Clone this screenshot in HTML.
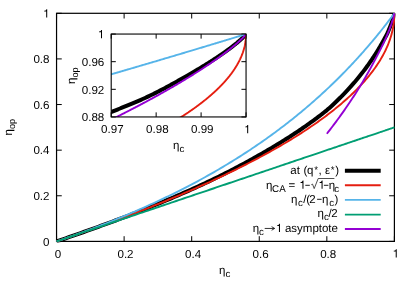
<!DOCTYPE html><html><head><meta charset="utf-8"><title>plot</title><style>html,body{margin:0;padding:0;background:#fff;}svg{display:block;will-change:transform;}text{font-family:"Liberation Sans",sans-serif;fill:#000;text-rendering:geometricPrecision;}</style></head><body>
<svg width="415" height="290" viewBox="0 0 415 290">
<rect width="415" height="290" fill="#fff"/>
<defs><clipPath id="cm"><rect x="55.55" y="12.30" width="339.85" height="230.10"/></clipPath><clipPath id="ci"><rect x="111.20" y="34.05" width="134.85" height="82.90"/></clipPath></defs>
<path d="M56.55,241.4 V236.20000000000002 M56.55,13.3 V18.5 M56.55,241.40 H61.75 M394.4,241.40 H389.2 M124.12,241.4 V236.20000000000002 M124.12,13.3 V18.5 M56.55,195.78 H61.75 M394.4,195.78 H389.2 M191.69,241.4 V236.20000000000002 M191.69,13.3 V18.5 M56.55,150.16 H61.75 M394.4,150.16 H389.2 M259.26,241.4 V236.20000000000002 M259.26,13.3 V18.5 M56.55,104.54 H61.75 M394.4,104.54 H389.2 M326.83,241.4 V236.20000000000002 M326.83,13.3 V18.5 M56.55,58.92 H61.75 M394.4,58.92 H389.2 M394.40,241.4 V236.20000000000002 M394.40,13.3 V18.5 M56.55,13.30 H61.75 M394.4,13.30 H389.2" stroke="#000" stroke-width="1" fill="none"/>
<rect x="56.55" y="13.3" width="337.85" height="228.10" fill="none" stroke="#000" stroke-width="1.2"/>
<g clip-path="url(#cm)" fill="none" stroke-linejoin="round">
<path d="M56.55,241.40 L59.63,240.36 L62.69,239.32 L65.74,238.27 L68.78,237.23 L71.80,236.19 L74.81,235.14 L77.80,234.10 L80.78,233.05 L83.75,232.01 L86.70,230.96 L89.64,229.92 L92.56,228.87 L95.47,227.83 L98.36,226.78 L101.25,225.73 L104.11,224.69 L106.97,223.64 L109.80,222.59 L112.63,221.54 L115.44,220.50 L118.24,219.45 L121.02,218.40 L123.79,217.35 L126.54,216.31 L129.28,215.26 L132.01,214.20 L134.72,213.15 L137.42,212.10 L140.10,211.04 L142.77,209.98 L145.43,208.93 L148.07,207.87 L150.70,206.81 L153.31,205.74 L155.91,204.68 L158.49,203.62 L161.07,202.56 L163.62,201.49 L166.17,200.42 L168.69,199.36 L171.21,198.29 L173.71,197.22 L176.20,196.16 L178.67,195.09 L181.13,194.02 L183.57,192.95 L186.00,191.88 L188.42,190.81 L190.82,189.74 L193.21,188.66 L195.58,187.59 L197.94,186.51 L200.29,185.42 L202.62,184.34 L204.94,183.25 L207.24,182.16 L209.53,181.07 L211.81,179.97 L214.07,178.87 L216.31,177.78 L218.55,176.68 L220.77,175.58 L222.97,174.48 L225.16,173.38 L227.34,172.28 L229.50,171.18 L231.65,170.07 L233.78,168.96 L235.90,167.85 L238.01,166.74 L240.10,165.62 L242.18,164.51 L244.24,163.39 L246.29,162.28 L248.33,161.16 L250.35,160.05 L252.36,158.93 L254.35,157.82 L256.33,156.71 L258.30,155.60 L260.25,154.49 L262.19,153.39 L264.11,152.28 L266.02,151.18 L267.91,150.07 L269.79,148.97 L271.66,147.87 L273.51,146.77 L275.35,145.66 L277.18,144.56 L278.99,143.46 L280.78,142.36 L282.57,141.26 L284.33,140.16 L286.09,139.05 L287.83,137.95 L289.55,136.85 L291.26,135.74 L292.96,134.64 L294.65,133.54 L296.32,132.43 L297.97,131.33 L299.61,130.22 L301.24,129.11 L302.85,128.01 L304.45,126.90 L306.04,125.80 L307.61,124.69 L309.16,123.59 L310.71,122.48 L312.24,121.38 L313.75,120.27 L315.25,119.16 L316.74,118.06 L318.21,116.95 L319.67,115.85 L321.11,114.74 L322.54,113.64 L323.96,112.53 L325.36,111.43 L326.75,110.33 L328.12,109.11 L329.48,107.89 L330.83,106.67 L332.16,105.44 L333.47,104.21 L334.78,102.98 L336.07,101.75 L337.34,100.52 L338.60,99.28 L339.85,98.05 L341.08,96.81 L342.30,95.57 L343.51,94.33 L344.70,93.10 L345.87,91.86 L347.03,90.62 L348.18,89.38 L349.32,88.14 L350.44,86.90 L351.54,85.66 L352.63,84.42 L353.71,83.19 L354.78,81.95 L355.83,80.72 L356.86,79.48 L357.88,78.25 L358.89,77.02 L359.88,75.79 L360.86,74.57 L361.83,73.34 L362.78,72.12 L363.72,70.90 L364.64,69.68 L365.55,68.46 L366.44,67.25 L367.32,66.04 L368.19,64.84 L369.04,63.63 L369.88,62.44 L370.70,61.25 L371.51,60.06 L372.31,58.89 L373.09,57.71 L373.86,56.55 L374.61,55.39 L375.35,54.25 L376.08,53.11 L376.79,51.98 L377.49,50.85 L378.17,49.74 L378.84,48.63 L379.49,47.52 L380.14,46.43 L380.76,45.34 L381.38,44.27 L381.97,43.21 L382.56,42.17 L383.13,41.14 L383.69,40.13 L384.23,39.14 L384.76,38.19 L385.27,37.27 L385.77,36.37 L386.26,35.47 L386.73,34.56 L387.19,33.62 L387.63,32.66 L388.06,31.69 L388.48,30.72 L388.88,29.76 L389.26,28.81 L389.64,27.89 L390.00,26.98 L390.34,26.11 L390.67,25.26 L390.99,24.42 L391.29,23.61 L391.58,22.82 L391.86,22.05 L392.12,21.31 L392.36,20.59 L392.60,19.89 L392.82,19.22 L393.02,18.57 L393.21,17.96 L393.39,17.37 L393.55,16.81 L393.70,16.28 L393.83,15.79 L393.95,15.33 L394.05,14.91 L394.15,14.53 L394.22,14.19 L394.29,13.90 L394.34,13.66 L394.37,13.47 L394.39,13.35 L394.40,13.30" stroke="#000000" stroke-width="4.0"/>
<path d="M56.55,241.40 L59.63,240.36 L62.69,239.32 L65.74,238.28 L68.78,237.23 L71.80,236.19 L74.81,235.15 L77.80,234.11 L80.78,233.07 L83.75,232.03 L86.70,230.98 L89.64,229.94 L92.56,228.90 L95.47,227.86 L98.36,226.82 L101.25,225.78 L104.11,224.74 L106.97,223.69 L109.80,222.65 L112.63,221.61 L115.44,220.57 L118.24,219.53 L121.02,218.49 L123.79,217.44 L126.54,216.40 L129.28,215.36 L132.01,214.32 L134.72,213.28 L137.42,212.24 L140.10,211.19 L142.77,210.15 L145.43,209.11 L148.07,208.07 L150.70,207.03 L153.31,205.99 L155.91,204.95 L158.49,203.90 L161.07,202.86 L163.62,201.82 L166.17,200.78 L168.69,199.74 L171.21,198.70 L173.71,197.65 L176.20,196.61 L178.67,195.57 L181.13,194.53 L183.57,193.49 L186.00,192.45 L188.42,191.41 L190.82,190.36 L193.21,189.32 L195.58,188.28 L197.94,187.24 L200.29,186.20 L202.62,185.16 L204.94,184.11 L207.24,183.07 L209.53,182.03 L211.81,180.99 L214.07,179.95 L216.31,178.91 L218.55,177.87 L220.77,176.82 L222.97,175.78 L225.16,174.74 L227.34,173.70 L229.50,172.66 L231.65,171.62 L233.78,170.57 L235.90,169.53 L238.01,168.49 L240.10,167.45 L242.18,166.41 L244.24,165.37 L246.29,164.33 L248.33,163.28 L250.35,162.24 L252.36,161.20 L254.35,160.16 L256.33,159.12 L258.30,158.08 L260.25,157.03 L262.19,155.99 L264.11,154.95 L266.02,153.91 L267.91,152.87 L269.79,151.83 L271.66,150.78 L273.51,149.74 L275.35,148.70 L277.18,147.66 L278.99,146.62 L280.78,145.58 L282.57,144.54 L284.33,143.49 L286.09,142.45 L287.83,141.41 L289.55,140.37 L291.26,139.33 L292.96,138.29 L294.65,137.24 L296.32,136.20 L297.97,135.16 L299.61,134.12 L301.24,133.08 L302.85,132.04 L304.45,131.00 L306.04,129.95 L307.61,128.91 L309.16,127.87 L310.71,126.83 L312.24,125.79 L313.75,124.75 L315.25,123.70 L316.74,122.66 L318.21,121.62 L319.67,120.58 L321.11,119.54 L322.54,118.50 L323.96,117.46 L325.36,116.41 L326.75,115.37 L328.12,114.33 L329.48,113.29 L330.83,112.25 L332.16,111.21 L333.47,110.16 L334.78,109.12 L336.07,108.08 L337.34,107.04 L338.60,106.00 L339.85,104.96 L341.08,103.92 L342.30,102.87 L343.51,101.83 L344.70,100.79 L345.87,99.75 L347.03,98.71 L348.18,97.67 L349.32,96.62 L350.44,95.58 L351.54,94.54 L352.63,93.50 L353.71,92.46 L354.78,91.42 L355.83,90.37 L356.86,89.33 L357.88,88.29 L358.89,87.25 L359.88,86.21 L360.86,85.17 L361.83,84.13 L362.78,83.08 L363.72,82.04 L364.64,81.00 L365.55,79.96 L366.44,78.92 L367.32,77.88 L368.19,76.83 L369.04,75.79 L369.88,74.75 L370.70,73.71 L371.51,72.67 L372.31,71.63 L373.09,70.59 L373.86,69.54 L374.61,68.50 L375.35,67.46 L376.08,66.42 L376.79,65.38 L377.49,64.34 L378.17,63.29 L378.84,62.25 L379.49,61.21 L380.14,60.17 L380.76,59.13 L381.38,58.09 L381.97,57.05 L382.56,56.00 L383.13,54.96 L383.69,53.92 L384.23,52.88 L384.76,51.84 L385.27,50.80 L385.77,49.75 L386.26,48.71 L386.73,47.67 L387.19,46.63 L387.63,45.59 L388.06,44.55 L388.48,43.51 L388.88,42.46 L389.26,41.42 L389.64,40.38 L390.00,39.34 L390.34,38.30 L390.67,37.26 L390.99,36.21 L391.29,35.17 L391.58,34.13 L391.86,33.09 L392.12,32.05 L392.36,31.01 L392.60,29.96 L392.82,28.92 L393.02,27.88 L393.21,26.84 L393.39,25.80 L393.55,24.76 L393.70,23.72 L393.83,22.67 L393.95,21.63 L394.05,20.59 L394.15,19.55 L394.22,18.51 L394.29,17.47 L394.34,16.42 L394.37,15.38 L394.39,14.34 L394.40,13.30" stroke="#e51e10" stroke-width="1.9"/>
<path d="M56.55,241.40 L59.63,240.36 L62.69,239.31 L65.74,238.25 L68.78,237.20 L71.80,236.13 L74.81,235.07 L77.80,233.99 L80.78,232.92 L83.75,231.83 L86.70,230.75 L89.64,229.66 L92.56,228.56 L95.47,227.46 L98.36,226.35 L101.25,225.24 L104.11,224.13 L106.97,223.01 L109.80,221.88 L112.63,220.76 L115.44,219.62 L118.24,218.48 L121.02,217.34 L123.79,216.19 L126.54,215.04 L129.28,213.89 L132.01,212.72 L134.72,211.56 L137.42,210.39 L140.10,209.22 L142.77,208.04 L145.43,206.85 L148.07,205.67 L150.70,204.47 L153.31,203.28 L155.91,202.08 L158.49,200.87 L161.07,199.66 L163.62,198.45 L166.17,197.23 L168.69,196.01 L171.21,194.78 L173.71,193.55 L176.20,192.32 L178.67,191.08 L181.13,189.84 L183.57,188.59 L186.00,187.34 L188.42,186.09 L190.82,184.83 L193.21,183.57 L195.58,182.31 L197.94,181.04 L200.29,179.77 L202.62,178.49 L204.94,177.21 L207.24,175.93 L209.53,174.64 L211.81,173.35 L214.07,172.06 L216.31,170.77 L218.55,169.47 L220.77,168.17 L222.97,166.86 L225.16,165.55 L227.34,164.24 L229.50,162.93 L231.65,161.62 L233.78,160.30 L235.90,158.98 L238.01,157.65 L240.10,156.33 L242.18,155.00 L244.24,153.67 L246.29,152.34 L248.33,151.00 L250.35,149.67 L252.36,148.33 L254.35,146.99 L256.33,145.65 L258.30,144.30 L260.25,142.96 L262.19,141.61 L264.11,140.27 L266.02,138.92 L267.91,137.57 L269.79,136.22 L271.66,134.87 L273.51,133.52 L275.35,132.17 L277.18,130.81 L278.99,129.46 L280.78,128.11 L282.57,126.76 L284.33,125.40 L286.09,124.05 L287.83,122.70 L289.55,121.34 L291.26,119.99 L292.96,118.64 L294.65,117.29 L296.32,115.94 L297.97,114.60 L299.61,113.25 L301.24,111.90 L302.85,110.56 L304.45,109.22 L306.04,107.88 L307.61,106.54 L309.16,105.21 L310.71,103.87 L312.24,102.54 L313.75,101.22 L315.25,99.89 L316.74,98.57 L318.21,97.25 L319.67,95.93 L321.11,94.62 L322.54,93.31 L323.96,92.01 L325.36,90.71 L326.75,89.41 L328.12,88.12 L329.48,86.83 L330.83,85.55 L332.16,84.27 L333.47,83.00 L334.78,81.73 L336.07,80.47 L337.34,79.21 L338.60,77.96 L339.85,76.72 L341.08,75.48 L342.30,74.25 L343.51,73.03 L344.70,71.81 L345.87,70.60 L347.03,69.39 L348.18,68.20 L349.32,67.01 L350.44,65.83 L351.54,64.66 L352.63,63.49 L353.71,62.34 L354.78,61.19 L355.83,60.05 L356.86,58.92 L357.88,57.80 L358.89,56.69 L359.88,55.59 L360.86,54.50 L361.83,53.42 L362.78,52.34 L363.72,51.28 L364.64,50.23 L365.55,49.20 L366.44,48.17 L367.32,47.15 L368.19,46.15 L369.04,45.15 L369.88,44.17 L370.70,43.20 L371.51,42.24 L372.31,41.30 L373.09,40.37 L373.86,39.45 L374.61,38.54 L375.35,37.65 L376.08,36.77 L376.79,35.90 L377.49,35.05 L378.17,34.21 L378.84,33.39 L379.49,32.58 L380.14,31.78 L380.76,31.00 L381.38,30.23 L381.97,29.48 L382.56,28.75 L383.13,28.03 L383.69,27.32 L384.23,26.63 L384.76,25.96 L385.27,25.30 L385.77,24.66 L386.26,24.04 L386.73,23.43 L387.19,22.84 L387.63,22.26 L388.06,21.70 L388.48,21.16 L388.88,20.64 L389.26,20.13 L389.64,19.64 L390.00,19.17 L390.34,18.71 L390.67,18.28 L390.99,17.86 L391.29,17.46 L391.58,17.07 L391.86,16.71 L392.12,16.36 L392.36,16.03 L392.60,15.72 L392.82,15.43 L393.02,15.16 L393.21,14.90 L393.39,14.67 L393.55,14.45 L393.70,14.25 L393.83,14.07 L393.95,13.91 L394.05,13.77 L394.15,13.64 L394.22,13.54 L394.29,13.45 L394.34,13.39 L394.37,13.34 L394.39,13.31 L394.40,13.30" stroke="#56b4e9" stroke-width="1.9"/>
<path d="M56.55,241.40 L59.63,240.36 L62.69,239.33 L65.74,238.30 L68.78,237.27 L71.80,236.25 L74.81,235.24 L77.80,234.23 L80.78,233.22 L83.75,232.22 L86.70,231.22 L89.64,230.23 L92.56,229.24 L95.47,228.26 L98.36,227.28 L101.25,226.31 L104.11,225.34 L106.97,224.38 L109.80,223.42 L112.63,222.47 L115.44,221.52 L118.24,220.58 L121.02,219.64 L123.79,218.70 L126.54,217.77 L129.28,216.85 L132.01,215.93 L134.72,215.01 L137.42,214.10 L140.10,213.19 L142.77,212.29 L145.43,211.40 L148.07,210.51 L150.70,209.62 L153.31,208.74 L155.91,207.86 L158.49,206.99 L161.07,206.12 L163.62,205.25 L166.17,204.40 L168.69,203.54 L171.21,202.69 L173.71,201.85 L176.20,201.01 L178.67,200.18 L181.13,199.35 L183.57,198.52 L186.00,197.70 L188.42,196.88 L190.82,196.07 L193.21,195.27 L195.58,194.47 L197.94,193.67 L200.29,192.88 L202.62,192.09 L204.94,191.31 L207.24,190.53 L209.53,189.76 L211.81,188.99 L214.07,188.23 L216.31,187.47 L218.55,186.71 L220.77,185.96 L222.97,185.22 L225.16,184.48 L227.34,183.75 L229.50,183.02 L231.65,182.29 L233.78,181.57 L235.90,180.85 L238.01,180.14 L240.10,179.44 L242.18,178.74 L244.24,178.04 L246.29,177.35 L248.33,176.66 L250.35,175.98 L252.36,175.30 L254.35,174.63 L256.33,173.96 L258.30,173.29 L260.25,172.64 L262.19,171.98 L264.11,171.33 L266.02,170.69 L267.91,170.05 L269.79,169.41 L271.66,168.78 L273.51,168.16 L275.35,167.54 L277.18,166.92 L278.99,166.31 L280.78,165.70 L282.57,165.10 L284.33,164.51 L286.09,163.91 L287.83,163.33 L289.55,162.74 L291.26,162.17 L292.96,161.59 L294.65,161.02 L296.32,160.46 L297.97,159.90 L299.61,159.35 L301.24,158.80 L302.85,158.25 L304.45,157.71 L306.04,157.18 L307.61,156.65 L309.16,156.12 L310.71,155.60 L312.24,155.09 L313.75,154.58 L315.25,154.07 L316.74,153.57 L318.21,153.07 L319.67,152.58 L321.11,152.09 L322.54,151.61 L323.96,151.13 L325.36,150.66 L326.75,150.19 L328.12,149.72 L329.48,149.27 L330.83,148.81 L332.16,148.36 L333.47,147.92 L334.78,147.48 L336.07,147.04 L337.34,146.61 L338.60,146.19 L339.85,145.77 L341.08,145.35 L342.30,144.94 L343.51,144.53 L344.70,144.13 L345.87,143.73 L347.03,143.34 L348.18,142.95 L349.32,142.57 L350.44,142.19 L351.54,141.82 L352.63,141.45 L353.71,141.09 L354.78,140.73 L355.83,140.37 L356.86,140.02 L357.88,139.68 L358.89,139.34 L359.88,139.00 L360.86,138.67 L361.83,138.35 L362.78,138.02 L363.72,137.71 L364.64,137.40 L365.55,137.09 L366.44,136.79 L367.32,136.49 L368.19,136.20 L369.04,135.91 L369.88,135.63 L370.70,135.35 L371.51,135.08 L372.31,134.81 L373.09,134.54 L373.86,134.28 L374.61,134.03 L375.35,133.78 L376.08,133.54 L376.79,133.29 L377.49,133.06 L378.17,132.83 L378.84,132.60 L379.49,132.38 L380.14,132.17 L380.76,131.95 L381.38,131.75 L381.97,131.54 L382.56,131.35 L383.13,131.15 L383.69,130.97 L384.23,130.78 L384.76,130.61 L385.27,130.43 L385.77,130.26 L386.26,130.10 L386.73,129.94 L387.19,129.79 L387.63,129.64 L388.06,129.49 L388.48,129.35 L388.88,129.21 L389.26,129.08 L389.64,128.96 L390.00,128.84 L390.34,128.72 L390.67,128.61 L390.99,128.50 L391.29,128.40 L391.58,128.30 L391.86,128.21 L392.12,128.12 L392.36,128.04 L392.60,127.96 L392.82,127.89 L393.02,127.82 L393.21,127.75 L393.39,127.69 L393.55,127.64 L393.70,127.59 L393.83,127.54 L393.95,127.50 L394.05,127.47 L394.15,127.44 L394.22,127.41 L394.29,127.39 L394.34,127.37 L394.37,127.36 L394.39,127.35 L394.40,127.35" stroke="#009e73" stroke-width="1.9"/>
<path d="M326.83,133.75 L327.45,132.97 L328.06,132.19 L328.67,131.41 L329.28,130.63 L329.88,129.85 L330.48,129.07 L331.08,128.29 L331.68,127.51 L332.27,126.74 L332.86,125.96 L333.45,125.18 L334.03,124.41 L334.61,123.63 L335.19,122.86 L335.77,122.09 L336.34,121.32 L336.91,120.54 L337.48,119.77 L338.05,119.00 L338.61,118.23 L339.17,117.47 L339.72,116.70 L340.28,115.93 L340.83,115.17 L341.38,114.40 L341.92,113.64 L342.46,112.88 L343.00,112.11 L343.54,111.35 L344.07,110.59 L344.61,109.83 L345.13,109.08 L345.66,108.32 L346.18,107.56 L346.70,106.81 L347.22,106.06 L347.73,105.30 L348.24,104.55 L348.75,103.80 L349.26,103.05 L349.76,102.31 L350.26,101.56 L350.76,100.81 L351.25,100.07 L351.75,99.33 L352.23,98.58 L352.72,97.84 L353.20,97.11 L353.68,96.37 L354.16,95.63 L354.64,94.90 L355.11,94.16 L355.58,93.43 L356.04,92.70 L356.51,91.97 L356.97,91.24 L357.43,90.52 L357.88,89.79 L358.33,89.07 L358.78,88.35 L359.23,87.63 L359.67,86.91 L360.11,86.19 L360.55,85.48 L360.99,84.76 L361.42,84.05 L361.85,83.34 L362.28,82.62 L362.70,81.91 L363.12,81.20 L363.54,80.49 L363.96,79.79 L364.37,79.08 L364.78,78.38 L365.19,77.67 L365.59,76.97 L365.99,76.27 L366.39,75.57 L366.79,74.88 L367.18,74.18 L367.57,73.49 L367.96,72.80 L368.34,72.11 L368.72,71.43 L369.10,70.75 L369.48,70.07 L369.85,69.39 L370.22,68.71 L370.59,68.04 L370.96,67.37 L371.32,66.71 L371.68,66.05 L372.03,65.39 L372.39,64.73 L372.74,64.08 L373.09,63.43 L373.43,62.78 L373.77,62.14 L374.11,61.50 L374.45,60.87 L374.78,60.24 L375.11,59.61 L375.44,58.99 L375.77,58.37 L376.09,57.75 L376.41,57.14 L376.73,56.54 L377.04,55.93 L377.35,55.34 L377.66,54.74 L377.97,54.16 L378.27,53.57 L378.57,52.99 L378.87,52.42 L379.16,51.85 L379.45,51.29 L379.74,50.73 L380.03,50.17 L380.31,49.61 L380.59,49.06 L380.87,48.52 L381.14,47.98 L381.42,47.43 L381.69,46.90 L381.95,46.36 L382.21,45.83 L382.48,45.30 L382.73,44.77 L382.99,44.25 L383.24,43.72 L383.49,43.20 L383.74,42.68 L383.98,42.16 L384.22,41.65 L384.46,41.13 L384.69,40.62 L384.93,40.11 L385.16,39.60 L385.38,39.09 L385.61,38.59 L385.83,38.09 L386.05,37.59 L386.26,37.09 L386.48,36.60 L386.69,36.11 L386.89,35.62 L387.10,35.14 L387.30,34.66 L387.50,34.18 L387.69,33.71 L387.89,33.24 L388.08,32.77 L388.26,32.31 L388.45,31.85 L388.63,31.39 L388.81,30.94 L388.98,30.49 L389.16,30.05 L389.33,29.60 L389.50,29.17 L389.66,28.73 L389.82,28.30 L389.98,27.88 L390.14,27.46 L390.29,27.04 L390.44,26.63 L390.59,26.22 L390.74,25.81 L390.88,25.41 L391.02,25.02 L391.15,24.63 L391.29,24.24 L391.42,23.86 L391.55,23.49 L391.67,23.12 L391.80,22.75 L391.91,22.39 L392.03,22.03 L392.15,21.68 L392.26,21.33 L392.37,20.99 L392.47,20.66 L392.57,20.33 L392.67,20.00 L392.77,19.68 L392.87,19.37 L392.96,19.06 L393.05,18.76 L393.13,18.47 L393.22,18.18 L393.30,17.89 L393.37,17.62 L393.45,17.35 L393.52,17.09 L393.59,16.83 L393.65,16.58 L393.72,16.34 L393.78,16.10 L393.84,15.88 L393.89,15.66 L393.94,15.45 L393.99,15.24 L394.04,15.05 L394.08,14.86 L394.12,14.68 L394.16,14.51 L394.20,14.35 L394.23,14.20 L394.26,14.06 L394.29,13.93 L394.31,13.81 L394.33,13.70 L394.35,13.61 L394.36,13.52 L394.38,13.45 L394.39,13.39 L394.39,13.34 L394.40,13.31 L394.40,13.30" stroke="#9400d3" stroke-width="1.9"/>
</g>
<text x="57.95" y="257.50" font-size="11.60" text-anchor="middle">0</text>
<text x="49.50" y="245.60" font-size="11.60" text-anchor="end">0</text>
<text x="125.52" y="257.50" font-size="11.60" text-anchor="middle">0.2</text>
<text x="49.50" y="199.98" font-size="11.60" text-anchor="end">0.2</text>
<text x="193.09" y="257.50" font-size="11.60" text-anchor="middle">0.4</text>
<text x="49.50" y="154.36" font-size="11.60" text-anchor="end">0.4</text>
<text x="260.66" y="257.50" font-size="11.60" text-anchor="middle">0.6</text>
<text x="49.50" y="108.74" font-size="11.60" text-anchor="end">0.6</text>
<text x="328.23" y="257.50" font-size="11.60" text-anchor="middle">0.8</text>
<text x="49.50" y="63.12" font-size="11.60" text-anchor="end">0.8</text>
<path d="M396.74,257.50 L395.72,257.50 L395.72,251.56 L393.75,251.56 L393.75,250.86 Q395.61,250.80 396.01,249.24 L396.74,249.24 Z" fill="#000"/>
<path d="M47.21,17.50 L46.19,17.50 L46.19,11.56 L44.22,11.56 L44.22,10.86 Q46.09,10.80 46.48,9.24 L47.21,9.24 Z" fill="#000"/>
<rect x="111.2" y="34.05" width="134.85" height="82.90" fill="#fff"/>
<path d="M111.20,116.95 V112.35000000000001 M111.20,34.05 V38.65 M111.2,116.95 H115.8 M246.05,116.95 H241.45000000000002 M156.15,116.95 V112.35000000000001 M156.15,34.05 V38.65 M111.2,89.32 H115.8 M246.05,89.32 H241.45000000000002 M201.10,116.95 V112.35000000000001 M201.10,34.05 V38.65 M111.2,61.68 H115.8 M246.05,61.68 H241.45000000000002 M246.05,116.95 V112.35000000000001 M246.05,34.05 V38.65 M111.2,34.05 H115.8 M246.05,34.05 H241.45000000000002" stroke="#000" stroke-width="1" fill="none"/>
<g clip-path="url(#ci)" fill="none" stroke-linejoin="round">
<path d="M88.72,121.39 L90.16,120.80 L91.59,120.22 L93.01,119.63 L94.42,119.05 L95.83,118.48 L97.23,117.90 L98.62,117.32 L100.01,116.75 L101.39,116.18 L102.76,115.61 L104.13,115.05 L105.49,114.48 L106.85,113.92 L108.20,113.36 L109.54,112.80 L110.87,112.25 L112.20,111.69 L113.52,111.15 L114.84,110.61 L116.15,110.07 L117.45,109.54 L118.75,109.01 L120.04,108.49 L121.32,107.97 L122.59,107.45 L123.86,106.93 L125.13,106.42 L126.38,105.91 L127.63,105.40 L128.88,104.89 L130.11,104.38 L131.34,103.88 L132.57,103.37 L133.78,102.86 L134.99,102.36 L136.20,101.85 L137.39,101.34 L138.59,100.83 L139.77,100.32 L140.95,99.80 L142.12,99.28 L143.28,98.76 L144.44,98.24 L145.59,97.72 L146.74,97.19 L147.87,96.65 L149.01,96.11 L150.13,95.57 L151.25,95.03 L152.36,94.48 L153.47,93.93 L154.57,93.39 L155.66,92.84 L156.74,92.29 L157.82,91.74 L158.90,91.19 L159.96,90.64 L161.02,90.09 L162.08,89.54 L163.12,88.99 L164.16,88.45 L165.19,87.90 L166.22,87.35 L167.24,86.80 L168.26,86.26 L169.26,85.71 L170.26,85.17 L171.26,84.62 L172.24,84.08 L173.22,83.54 L174.20,83.00 L175.17,82.47 L176.13,81.93 L177.08,81.40 L178.03,80.87 L178.97,80.34 L179.91,79.81 L180.83,79.28 L181.76,78.76 L182.67,78.24 L183.58,77.72 L184.48,77.21 L185.38,76.70 L186.27,76.19 L187.15,75.68 L188.03,75.18 L188.89,74.68 L189.76,74.18 L190.61,73.68 L191.46,73.19 L192.31,72.70 L193.14,72.22 L193.97,71.73 L194.80,71.25 L195.61,70.77 L196.42,70.29 L197.23,69.81 L198.02,69.33 L198.81,68.86 L199.60,68.39 L200.38,67.92 L201.15,67.46 L201.91,66.99 L202.67,66.53 L203.42,66.07 L204.16,65.62 L204.90,65.16 L205.63,64.71 L206.36,64.26 L207.08,63.81 L207.79,63.37 L208.49,62.93 L209.19,62.49 L209.89,62.05 L210.57,61.61 L211.25,61.18 L211.92,60.75 L212.59,60.32 L213.25,59.89 L213.90,59.47 L214.55,59.05 L215.19,58.63 L215.82,58.22 L216.45,57.80 L217.07,57.39 L217.68,56.98 L218.29,56.58 L218.89,56.17 L219.48,55.77 L220.07,55.37 L220.65,54.98 L221.22,54.59 L221.79,54.20 L222.35,53.81 L222.90,53.42 L223.45,53.04 L223.99,52.66 L224.53,52.28 L225.06,51.91 L225.58,51.54 L226.09,51.17 L226.60,50.80 L227.10,50.44 L227.60,50.08 L228.09,49.72 L228.57,49.37 L229.05,49.02 L229.51,48.67 L229.98,48.33 L230.43,47.98 L230.88,47.64 L231.32,47.31 L231.76,46.97 L232.19,46.64 L232.61,46.32 L233.03,45.99 L233.44,45.67 L233.84,45.36 L234.24,45.04 L234.63,44.73 L235.02,44.43 L235.39,44.12 L235.76,43.82 L236.13,43.53 L236.48,43.24 L236.84,42.95 L237.18,42.66 L237.52,42.38 L237.85,42.10 L238.17,41.83 L238.49,41.56 L238.80,41.29 L239.11,41.03 L239.41,40.77 L239.70,40.51 L239.98,40.26 L240.26,40.01 L240.54,39.77 L240.80,39.53 L241.06,39.29 L241.31,39.06 L241.56,38.83 L241.80,38.61 L242.03,38.39 L242.26,38.18 L242.48,37.97 L242.69,37.76 L242.90,37.56 L243.10,37.37 L243.29,37.18 L243.48,36.99 L243.66,36.81 L243.83,36.63 L244.00,36.46 L244.16,36.29 L244.31,36.13 L244.46,35.97 L244.60,35.82 L244.74,35.67 L244.87,35.53 L244.99,35.39 L245.10,35.26 L245.21,35.14 L245.31,35.02 L245.41,34.91 L245.50,34.80 L245.58,34.70 L245.65,34.61 L245.72,34.52 L245.78,34.44 L245.84,34.36 L245.89,34.30 L245.93,34.24 L245.97,34.18 L246.00,34.14 L246.02,34.10 L246.04,34.07 L246.05,34.06 L246.05,34.05" stroke="#000000" stroke-width="4.0"/>
<path d="M88.72,163.29 L89.51,162.97 L90.30,162.65 L91.08,162.32 L91.86,162.00 L92.64,161.67 L93.42,161.35 L94.20,161.03 L94.97,160.70 L95.74,160.38 L96.51,160.05 L97.28,159.73 L98.05,159.41 L98.81,159.08 L99.57,158.76 L100.33,158.43 L101.09,158.11 L101.85,157.79 L102.60,157.46 L103.35,157.14 L104.10,156.81 L104.85,156.49 L105.60,156.17 L106.34,155.84 L107.08,155.52 L107.82,155.20 L108.56,154.87 L109.30,154.55 L110.03,154.22 L110.76,153.90 L111.49,153.58 L112.22,153.25 L112.95,152.93 L113.67,152.60 L114.39,152.28 L115.12,151.96 L115.83,151.63 L116.55,151.31 L117.26,150.98 L117.98,150.66 L118.69,150.34 L119.40,150.01 L120.10,149.69 L120.81,149.36 L121.51,149.04 L122.21,148.72 L122.91,148.39 L123.61,148.07 L124.30,147.75 L124.99,147.42 L125.68,147.10 L126.37,146.77 L127.06,146.45 L127.74,146.13 L128.43,145.80 L129.11,145.48 L129.79,145.15 L130.46,144.83 L131.14,144.51 L131.81,144.18 L132.48,143.86 L133.15,143.53 L133.82,143.21 L134.48,142.89 L135.15,142.56 L135.81,142.24 L136.47,141.91 L137.12,141.59 L137.78,141.27 L138.43,140.94 L139.08,140.62 L139.73,140.29 L140.38,139.97 L141.03,139.65 L141.67,139.32 L142.31,139.00 L142.95,138.68 L143.59,138.35 L144.22,138.03 L144.86,137.70 L145.49,137.38 L146.12,137.06 L146.75,136.73 L147.37,136.41 L147.99,136.08 L148.62,135.76 L149.24,135.44 L149.85,135.11 L150.47,134.79 L151.08,134.46 L151.69,134.14 L152.30,133.82 L152.91,133.49 L153.52,133.17 L154.12,132.84 L154.72,132.52 L155.32,132.20 L155.92,131.87 L156.52,131.55 L157.11,131.23 L157.70,130.90 L158.29,130.58 L158.88,130.25 L159.47,129.93 L160.05,129.61 L160.63,129.28 L161.21,128.96 L161.79,128.63 L162.37,128.31 L162.94,127.99 L163.51,127.66 L164.08,127.34 L164.65,127.01 L165.22,126.69 L165.78,126.37 L166.34,126.04 L166.90,125.72 L167.46,125.39 L168.02,125.07 L168.57,124.75 L169.13,124.42 L169.68,124.10 L170.23,123.78 L170.77,123.45 L171.32,123.13 L171.86,122.80 L172.40,122.48 L172.94,122.16 L173.47,121.83 L174.01,121.51 L174.54,121.18 L175.07,120.86 L175.60,120.54 L176.13,120.21 L176.65,119.89 L177.18,119.56 L177.70,119.24 L178.21,118.92 L178.73,118.59 L179.25,118.27 L179.76,117.94 L180.27,117.62 L180.78,117.30 L181.29,116.97 L181.79,116.65 L182.29,116.33 L182.80,116.00 L183.29,115.68 L183.79,115.35 L184.29,115.03 L184.78,114.71 L185.27,114.38 L185.76,114.06 L186.25,113.73 L186.73,113.41 L187.22,113.09 L187.70,112.76 L188.18,112.44 L188.65,112.11 L189.13,111.79 L189.60,111.47 L190.07,111.14 L190.54,110.82 L191.01,110.49 L191.48,110.17 L191.94,109.85 L192.40,109.52 L192.86,109.20 L193.32,108.87 L193.77,108.55 L194.23,108.23 L194.68,107.90 L195.13,107.58 L195.58,107.26 L196.02,106.93 L196.47,106.61 L196.91,106.28 L197.35,105.96 L197.78,105.64 L198.22,105.31 L198.65,104.99 L199.09,104.66 L199.52,104.34 L199.94,104.02 L200.37,103.69 L200.79,103.37 L201.22,103.04 L201.64,102.72 L202.05,102.40 L202.47,102.07 L202.88,101.75 L203.30,101.42 L203.71,101.10 L204.11,100.78 L204.52,100.45 L204.92,100.13 L205.33,99.81 L205.73,99.48 L206.13,99.16 L206.52,98.83 L206.92,98.51 L207.31,98.19 L207.70,97.86 L208.09,97.54 L208.47,97.21 L208.86,96.89 L209.24,96.57 L209.62,96.24 L210.00,95.92 L210.38,95.59 L210.75,95.27 L211.12,94.95 L211.49,94.62 L211.86,94.30 L212.23,93.97 L212.59,93.65 L212.96,93.33 L213.32,93.00 L213.68,92.68 L214.03,92.36 L214.39,92.03 L214.74,91.71 L215.09,91.38 L215.44,91.06 L215.79,90.74 L216.13,90.41 L216.47,90.09 L216.81,89.76 L217.15,89.44 L217.49,89.12 L217.83,88.79 L218.16,88.47 L218.49,88.14 L218.82,87.82 L219.15,87.50 L219.47,87.17 L219.79,86.85 L220.12,86.52 L220.43,86.20 L220.75,85.88 L221.07,85.55 L221.38,85.23 L221.69,84.91 L222.00,84.58 L222.31,84.26 L222.61,83.93 L222.92,83.61 L223.22,83.29 L223.52,82.96 L223.82,82.64 L224.11,82.31 L224.40,81.99 L224.70,81.67 L224.99,81.34 L225.27,81.02 L225.56,80.69 L225.84,80.37 L226.12,80.05 L226.40,79.72 L226.68,79.40 L226.96,79.07 L227.23,78.75 L227.50,78.43 L227.77,78.10 L228.04,77.78 L228.31,77.45 L228.57,77.13 L228.83,76.81 L229.09,76.48 L229.35,76.16 L229.61,75.84 L229.86,75.51 L230.11,75.19 L230.36,74.86 L230.61,74.54 L230.86,74.22 L231.10,73.89 L231.34,73.57 L231.58,73.24 L231.82,72.92 L232.06,72.60 L232.29,72.27 L232.52,71.95 L232.75,71.62 L232.98,71.30 L233.21,70.98 L233.43,70.65 L233.65,70.33 L233.87,70.00 L234.09,69.68 L234.31,69.36 L234.52,69.03 L234.74,68.71 L234.95,68.39 L235.15,68.06 L235.36,67.74 L235.57,67.41 L235.77,67.09 L235.97,66.77 L236.17,66.44 L236.36,66.12 L236.56,65.79 L236.75,65.47 L236.94,65.15 L237.13,64.82 L237.32,64.50 L237.50,64.17 L237.69,63.85 L237.87,63.53 L238.05,63.20 L238.22,62.88 L238.40,62.55 L238.57,62.23 L238.74,61.91 L238.91,61.58 L239.08,61.26 L239.24,60.94 L239.41,60.61 L239.57,60.29 L239.73,59.96 L239.88,59.64 L240.04,59.32 L240.19,58.99 L240.34,58.67 L240.49,58.34 L240.64,58.02 L240.78,57.70 L240.93,57.37 L241.07,57.05 L241.21,56.72 L241.35,56.40 L241.48,56.08 L241.61,55.75 L241.75,55.43 L241.87,55.10 L242.00,54.78 L242.13,54.46 L242.25,54.13 L242.37,53.81 L242.49,53.49 L242.61,53.16 L242.73,52.84 L242.84,52.51 L242.95,52.19 L243.06,51.87 L243.17,51.54 L243.27,51.22 L243.38,50.89 L243.48,50.57 L243.58,50.25 L243.68,49.92 L243.77,49.60 L243.87,49.27 L243.96,48.95 L244.05,48.63 L244.14,48.30 L244.22,47.98 L244.31,47.65 L244.39,47.33 L244.47,47.01 L244.55,46.68 L244.62,46.36 L244.70,46.03 L244.77,45.71 L244.84,45.39 L244.91,45.06 L244.97,44.74 L245.04,44.42 L245.10,44.09 L245.16,43.77 L245.22,43.44 L245.28,43.12 L245.33,42.80 L245.38,42.47 L245.43,42.15 L245.48,41.82 L245.53,41.50 L245.57,41.18 L245.61,40.85 L245.65,40.53 L245.69,40.20 L245.73,39.88 L245.76,39.56 L245.80,39.23 L245.83,38.91 L245.86,38.58 L245.88,38.26 L245.91,37.94 L245.93,37.61 L245.95,37.29 L245.97,36.97 L245.99,36.64 L246.00,36.32 L246.01,35.99 L246.03,35.67 L246.03,35.35 L246.04,35.02 L246.05,34.70 L246.05,34.37 L246.05,34.05" stroke="#e51e10" stroke-width="1.9"/>
<path d="M88.72,80.77 L90.16,80.36 L91.59,79.95 L93.01,79.54 L94.42,79.14 L95.83,78.73 L97.23,78.33 L98.62,77.93 L100.01,77.53 L101.39,77.13 L102.76,76.73 L104.13,76.34 L105.49,75.94 L106.85,75.55 L108.20,75.16 L109.54,74.77 L110.87,74.39 L112.20,74.00 L113.52,73.62 L114.84,73.24 L116.15,72.86 L117.45,72.48 L118.75,72.10 L120.04,71.73 L121.32,71.35 L122.59,70.98 L123.86,70.61 L125.13,70.25 L126.38,69.88 L127.63,69.51 L128.88,69.15 L130.11,68.79 L131.34,68.43 L132.57,68.07 L133.78,67.72 L134.99,67.36 L136.20,67.01 L137.39,66.66 L138.59,66.31 L139.77,65.96 L140.95,65.62 L142.12,65.27 L143.28,64.93 L144.44,64.59 L145.59,64.25 L146.74,63.92 L147.87,63.58 L149.01,63.25 L150.13,62.92 L151.25,62.59 L152.36,62.26 L153.47,61.93 L154.57,61.61 L155.66,61.29 L156.74,60.97 L157.82,60.65 L158.90,60.33 L159.96,60.01 L161.02,59.70 L162.08,59.39 L163.12,59.08 L164.16,58.77 L165.19,58.46 L166.22,58.16 L167.24,57.86 L168.26,57.56 L169.26,57.26 L170.26,56.96 L171.26,56.66 L172.24,56.37 L173.22,56.08 L174.20,55.79 L175.17,55.50 L176.13,55.21 L177.08,54.93 L178.03,54.65 L178.97,54.37 L179.91,54.09 L180.83,53.81 L181.76,53.53 L182.67,53.26 L183.58,52.99 L184.48,52.72 L185.38,52.45 L186.27,52.18 L187.15,51.92 L188.03,51.66 L188.89,51.40 L189.76,51.14 L190.61,50.88 L191.46,50.63 L192.31,50.37 L193.14,50.12 L193.97,49.87 L194.80,49.63 L195.61,49.38 L196.42,49.14 L197.23,48.90 L198.02,48.66 L198.81,48.42 L199.60,48.18 L200.38,47.95 L201.15,47.72 L201.91,47.49 L202.67,47.26 L203.42,47.03 L204.16,46.81 L204.90,46.58 L205.63,46.36 L206.36,46.14 L207.08,45.93 L207.79,45.71 L208.49,45.50 L209.19,45.29 L209.89,45.08 L210.57,44.87 L211.25,44.66 L211.92,44.46 L212.59,44.26 L213.25,44.06 L213.90,43.86 L214.55,43.67 L215.19,43.47 L215.82,43.28 L216.45,43.09 L217.07,42.90 L217.68,42.72 L218.29,42.53 L218.89,42.35 L219.48,42.17 L220.07,41.99 L220.65,41.81 L221.22,41.64 L221.79,41.47 L222.35,41.30 L222.90,41.13 L223.45,40.96 L223.99,40.80 L224.53,40.63 L225.06,40.47 L225.58,40.31 L226.09,40.16 L226.60,40.00 L227.10,39.85 L227.60,39.70 L228.09,39.55 L228.57,39.40 L229.05,39.26 L229.51,39.11 L229.98,38.97 L230.43,38.83 L230.88,38.70 L231.32,38.56 L231.76,38.43 L232.19,38.30 L232.61,38.17 L233.03,38.04 L233.44,37.92 L233.84,37.79 L234.24,37.67 L234.63,37.55 L235.02,37.43 L235.39,37.32 L235.76,37.20 L236.13,37.09 L236.48,36.98 L236.84,36.88 L237.18,36.77 L237.52,36.67 L237.85,36.57 L238.17,36.47 L238.49,36.37 L238.80,36.27 L239.11,36.18 L239.41,36.09 L239.70,36.00 L239.98,35.91 L240.26,35.83 L240.54,35.74 L240.80,35.66 L241.06,35.58 L241.31,35.50 L241.56,35.43 L241.80,35.36 L242.03,35.28 L242.26,35.21 L242.48,35.15 L242.69,35.08 L242.90,35.02 L243.10,34.96 L243.29,34.90 L243.48,34.84 L243.66,34.78 L243.83,34.73 L244.00,34.68 L244.16,34.63 L244.31,34.58 L244.46,34.54 L244.60,34.49 L244.74,34.45 L244.87,34.41 L244.99,34.38 L245.10,34.34 L245.21,34.31 L245.31,34.28 L245.41,34.25 L245.50,34.22 L245.58,34.20 L245.65,34.17 L245.72,34.15 L245.78,34.13 L245.84,34.11 L245.89,34.10 L245.93,34.09 L245.97,34.08 L246.00,34.07 L246.02,34.06 L246.04,34.05 L246.05,34.05 L246.05,34.05" stroke="#56b4e9" stroke-width="1.9"/>
<path d="M88.72,130.35 L90.16,129.68 L91.59,129.02 L93.01,128.35 L94.42,127.68 L95.83,127.02 L97.23,126.36 L98.62,125.70 L100.01,125.04 L101.39,124.38 L102.76,123.72 L104.13,123.06 L105.49,122.40 L106.85,121.75 L108.20,121.09 L109.54,120.44 L110.87,119.78 L112.20,119.13 L113.52,118.48 L114.84,117.82 L116.15,117.17 L117.45,116.52 L118.75,115.87 L120.04,115.23 L121.32,114.58 L122.59,113.93 L123.86,113.29 L125.13,112.65 L126.38,112.01 L127.63,111.37 L128.88,110.73 L130.11,110.09 L131.34,109.46 L132.57,108.83 L133.78,108.20 L134.99,107.57 L136.20,106.94 L137.39,106.31 L138.59,105.68 L139.77,105.06 L140.95,104.44 L142.12,103.82 L143.28,103.20 L144.44,102.58 L145.59,101.97 L146.74,101.35 L147.87,100.74 L149.01,100.13 L150.13,99.52 L151.25,98.91 L152.36,98.31 L153.47,97.70 L154.57,97.10 L155.66,96.50 L156.74,95.90 L157.82,95.30 L158.90,94.71 L159.96,94.11 L161.02,93.52 L162.08,92.93 L163.12,92.34 L164.16,91.76 L165.19,91.17 L166.22,90.59 L167.24,90.01 L168.26,89.43 L169.26,88.85 L170.26,88.28 L171.26,87.70 L172.24,87.13 L173.22,86.56 L174.20,86.00 L175.17,85.43 L176.13,84.87 L177.08,84.31 L178.03,83.75 L178.97,83.19 L179.91,82.64 L180.83,82.08 L181.76,81.53 L182.67,80.98 L183.58,80.44 L184.48,79.89 L185.38,79.35 L186.27,78.81 L187.15,78.27 L188.03,77.74 L188.89,77.20 L189.76,76.67 L190.61,76.14 L191.46,75.62 L192.31,75.09 L193.14,74.57 L193.97,74.05 L194.80,73.53 L195.61,73.02 L196.42,72.51 L197.23,72.00 L198.02,71.49 L198.81,70.98 L199.60,70.48 L200.38,69.98 L201.15,69.48 L201.91,68.98 L202.67,68.49 L203.42,68.00 L204.16,67.51 L204.90,67.02 L205.63,66.54 L206.36,66.06 L207.08,65.58 L207.79,65.10 L208.49,64.63 L209.19,64.16 L209.89,63.69 L210.57,63.23 L211.25,62.76 L211.92,62.30 L212.59,61.84 L213.25,61.39 L213.90,60.94 L214.55,60.49 L215.19,60.04 L215.82,59.60 L216.45,59.15 L217.07,58.72 L217.68,58.28 L218.29,57.85 L218.89,57.42 L219.48,56.99 L220.07,56.56 L220.65,56.14 L221.22,55.72 L221.79,55.31 L222.35,54.89 L222.90,54.48 L223.45,54.08 L223.99,53.67 L224.53,53.27 L225.06,52.87 L225.58,52.48 L226.09,52.09 L226.60,51.70 L227.10,51.31 L227.60,50.93 L228.09,50.55 L228.57,50.17 L229.05,49.80 L229.51,49.43 L229.98,49.07 L230.43,48.70 L230.88,48.34 L231.32,47.99 L231.76,47.63 L232.19,47.29 L232.61,46.94 L233.03,46.60 L233.44,46.26 L233.84,45.92 L234.24,45.59 L234.63,45.26 L235.02,44.94 L235.39,44.62 L235.76,44.30 L236.13,43.99 L236.48,43.68 L236.84,43.38 L237.18,43.07 L237.52,42.78 L237.85,42.48 L238.17,42.19 L238.49,41.91 L238.80,41.63 L239.11,41.35 L239.41,41.08 L239.70,40.81 L239.98,40.54 L240.26,40.28 L240.54,40.03 L240.80,39.77 L241.06,39.53 L241.31,39.28 L241.56,39.04 L241.80,38.81 L242.03,38.58 L242.26,38.36 L242.48,38.14 L242.69,37.92 L242.90,37.71 L243.10,37.51 L243.29,37.31 L243.48,37.11 L243.66,36.92 L243.83,36.73 L244.00,36.55 L244.16,36.38 L244.31,36.21 L244.46,36.04 L244.60,35.89 L244.74,35.73 L244.87,35.59 L244.99,35.44 L245.10,35.31 L245.21,35.18 L245.31,35.06 L245.41,34.94 L245.50,34.83 L245.58,34.72 L245.65,34.62 L245.72,34.53 L245.78,34.45 L245.84,34.37 L245.89,34.30 L245.93,34.24 L245.97,34.19 L246.00,34.14 L246.02,34.10 L246.04,34.08 L246.05,34.06 L246.05,34.05" stroke="#9400d3" stroke-width="1.9"/>
</g>
<rect x="111.2" y="34.05" width="134.85" height="82.90" fill="none" stroke="#000" stroke-width="1.1"/>
<text x="112.40" y="133.30" font-size="11.60" text-anchor="middle">0.97</text>
<text x="157.35" y="133.30" font-size="11.60" text-anchor="middle">0.98</text>
<text x="202.30" y="133.30" font-size="11.60" text-anchor="middle">0.99</text>
<path d="M248.19,133.30 L247.17,133.30 L247.17,127.36 L245.20,127.36 L245.20,126.66 Q247.06,126.60 247.46,125.04 L248.19,125.04 Z" fill="#000"/>
<text x="104.30" y="121.15" font-size="11.60" text-anchor="end">0.88</text>
<text x="104.30" y="93.52" font-size="11.60" text-anchor="end">0.92</text>
<text x="104.30" y="65.88" font-size="11.60" text-anchor="end">0.96</text>
<path d="M102.01,38.25 L100.99,38.25 L100.99,32.31 L99.02,32.31 L99.02,31.61 Q100.89,31.55 101.28,29.99 L102.01,29.99 Z" fill="#000"/>
<text x="219.00" y="273.70" font-size="11.50" text-anchor="start">η<tspan font-size="9.78" dy="3.20">c</tspan></text>
<text transform="translate(12.2,135.5) rotate(-90)" font-size="11.5">η<tspan font-size="9.20" dy="2.80">op</tspan></text>
<text x="173.00" y="149.00" font-size="11.50" text-anchor="start">η<tspan font-size="9.78" dy="3.20">c</tspan></text>
<text transform="translate(75.1,84.0) rotate(-90)" font-size="11.5">η<tspan font-size="9.20" dy="2.80">op</tspan></text>
<path d="M344.9,170.7 H380.7" stroke="#000000" stroke-width="4.0" fill="none"/>
<path d="M344.9,185.3 H380.7" stroke="#e51e10" stroke-width="1.9" fill="none"/>
<path d="M344.9,199.9 H380.7" stroke="#56b4e9" stroke-width="1.9" fill="none"/>
<path d="M344.9,214.6 H380.7" stroke="#009e73" stroke-width="1.9" fill="none"/>
<path d="M344.9,229.05 H380.7" stroke="#9400d3" stroke-width="1.9" fill="none"/>
<text x="290.31" y="174.30" font-size="11.50" text-anchor="start">at</text>
<text x="303.39" y="174.30" font-size="11.50" text-anchor="start">(</text>
<text x="307.12" y="174.30" font-size="11.50" text-anchor="start">q</text>
<text x="314.14" y="172.80" font-size="9.78" text-anchor="start">*</text>
<text x="318.47" y="174.30" font-size="11.50" text-anchor="start">,</text>
<text x="325.11" y="174.30" font-size="11.50" text-anchor="start">ε</text>
<text x="330.74" y="172.80" font-size="9.78" text-anchor="start">*</text>
<text x="335.33" y="174.30" font-size="11.50" text-anchor="start">)</text>
<text x="265.90" y="188.80" font-size="11.50" text-anchor="start">η</text>
<text x="272.10" y="191.70" font-size="9.78" text-anchor="start">CA</text>
<text x="288.44" y="188.80" font-size="11.50" text-anchor="start">=</text>
<path d="M303.47,188.80 L302.45,188.80 L302.45,182.91 L300.50,182.91 L300.50,182.22 Q302.35,182.15 302.74,180.61 L303.47,180.61 Z" fill="#000"/>
<path d="M305.30,185.30 H309.80" stroke="#000" stroke-width="0.9" fill="none"/>
<path d="M311.3,184.70 L312.5,184.10 L314.2,188.60 L318.2,178.50 H334.4" stroke="#222" stroke-width="0.8" fill="none" stroke-linejoin="miter"/>
<path d="M322.57,188.80 L321.56,188.80 L321.56,182.91 L319.60,182.91 L319.60,182.22 Q321.45,182.15 321.84,180.61 L322.57,180.61 Z" fill="#000"/>
<path d="M323.90,185.30 H328.40" stroke="#000" stroke-width="0.9" fill="none"/>
<text x="328.70" y="188.80" font-size="11.50" text-anchor="start">η</text>
<text x="334.28" y="191.70" font-size="9.78" text-anchor="start">c</text>
<text x="291.10" y="203.10" font-size="11.50" text-anchor="start">η</text>
<text x="298.08" y="206.00" font-size="9.78" text-anchor="start">c</text>
<text x="303.30" y="203.10" font-size="11.50" text-anchor="start">/</text>
<text x="306.29" y="203.10" font-size="11.50" text-anchor="start">(</text>
<text x="309.32" y="203.10" font-size="11.50" text-anchor="start">2</text>
<path d="M317.10,199.30 H321.60" stroke="#000" stroke-width="0.9" fill="none"/>
<text x="322.00" y="203.10" font-size="11.50" text-anchor="start">η</text>
<text x="329.18" y="206.00" font-size="9.78" text-anchor="start">c</text>
<text x="334.53" y="202.50" font-size="11.50" text-anchor="start">)</text>
<text x="317.50" y="217.30" font-size="11.50" text-anchor="start">η</text>
<text x="323.88" y="220.20" font-size="9.78" text-anchor="start">c</text>
<text x="328.40" y="217.30" font-size="11.50" text-anchor="start">/</text>
<text x="331.32" y="217.30" font-size="11.50" text-anchor="start">2</text>
<text x="252.80" y="232.00" font-size="11.50" text-anchor="start">η</text>
<text x="258.98" y="235.40" font-size="9.78" text-anchor="start">c</text>
<path d="M264.7,228.45 H274.2 M271.6,226.65 L274.7,228.45 L271.6,230.25" stroke="#000" stroke-width="0.8" fill="none" stroke-linejoin="miter"/>
<path d="M279.97,232.00 L278.95,232.00 L278.95,226.11 L277.00,226.11 L277.00,225.42 Q278.85,225.35 279.24,223.81 L279.97,223.81 Z" fill="#000"/>
<text x="284.91" y="232.00" font-size="11.50" text-anchor="start">asymptote</text>
</svg></body></html>
